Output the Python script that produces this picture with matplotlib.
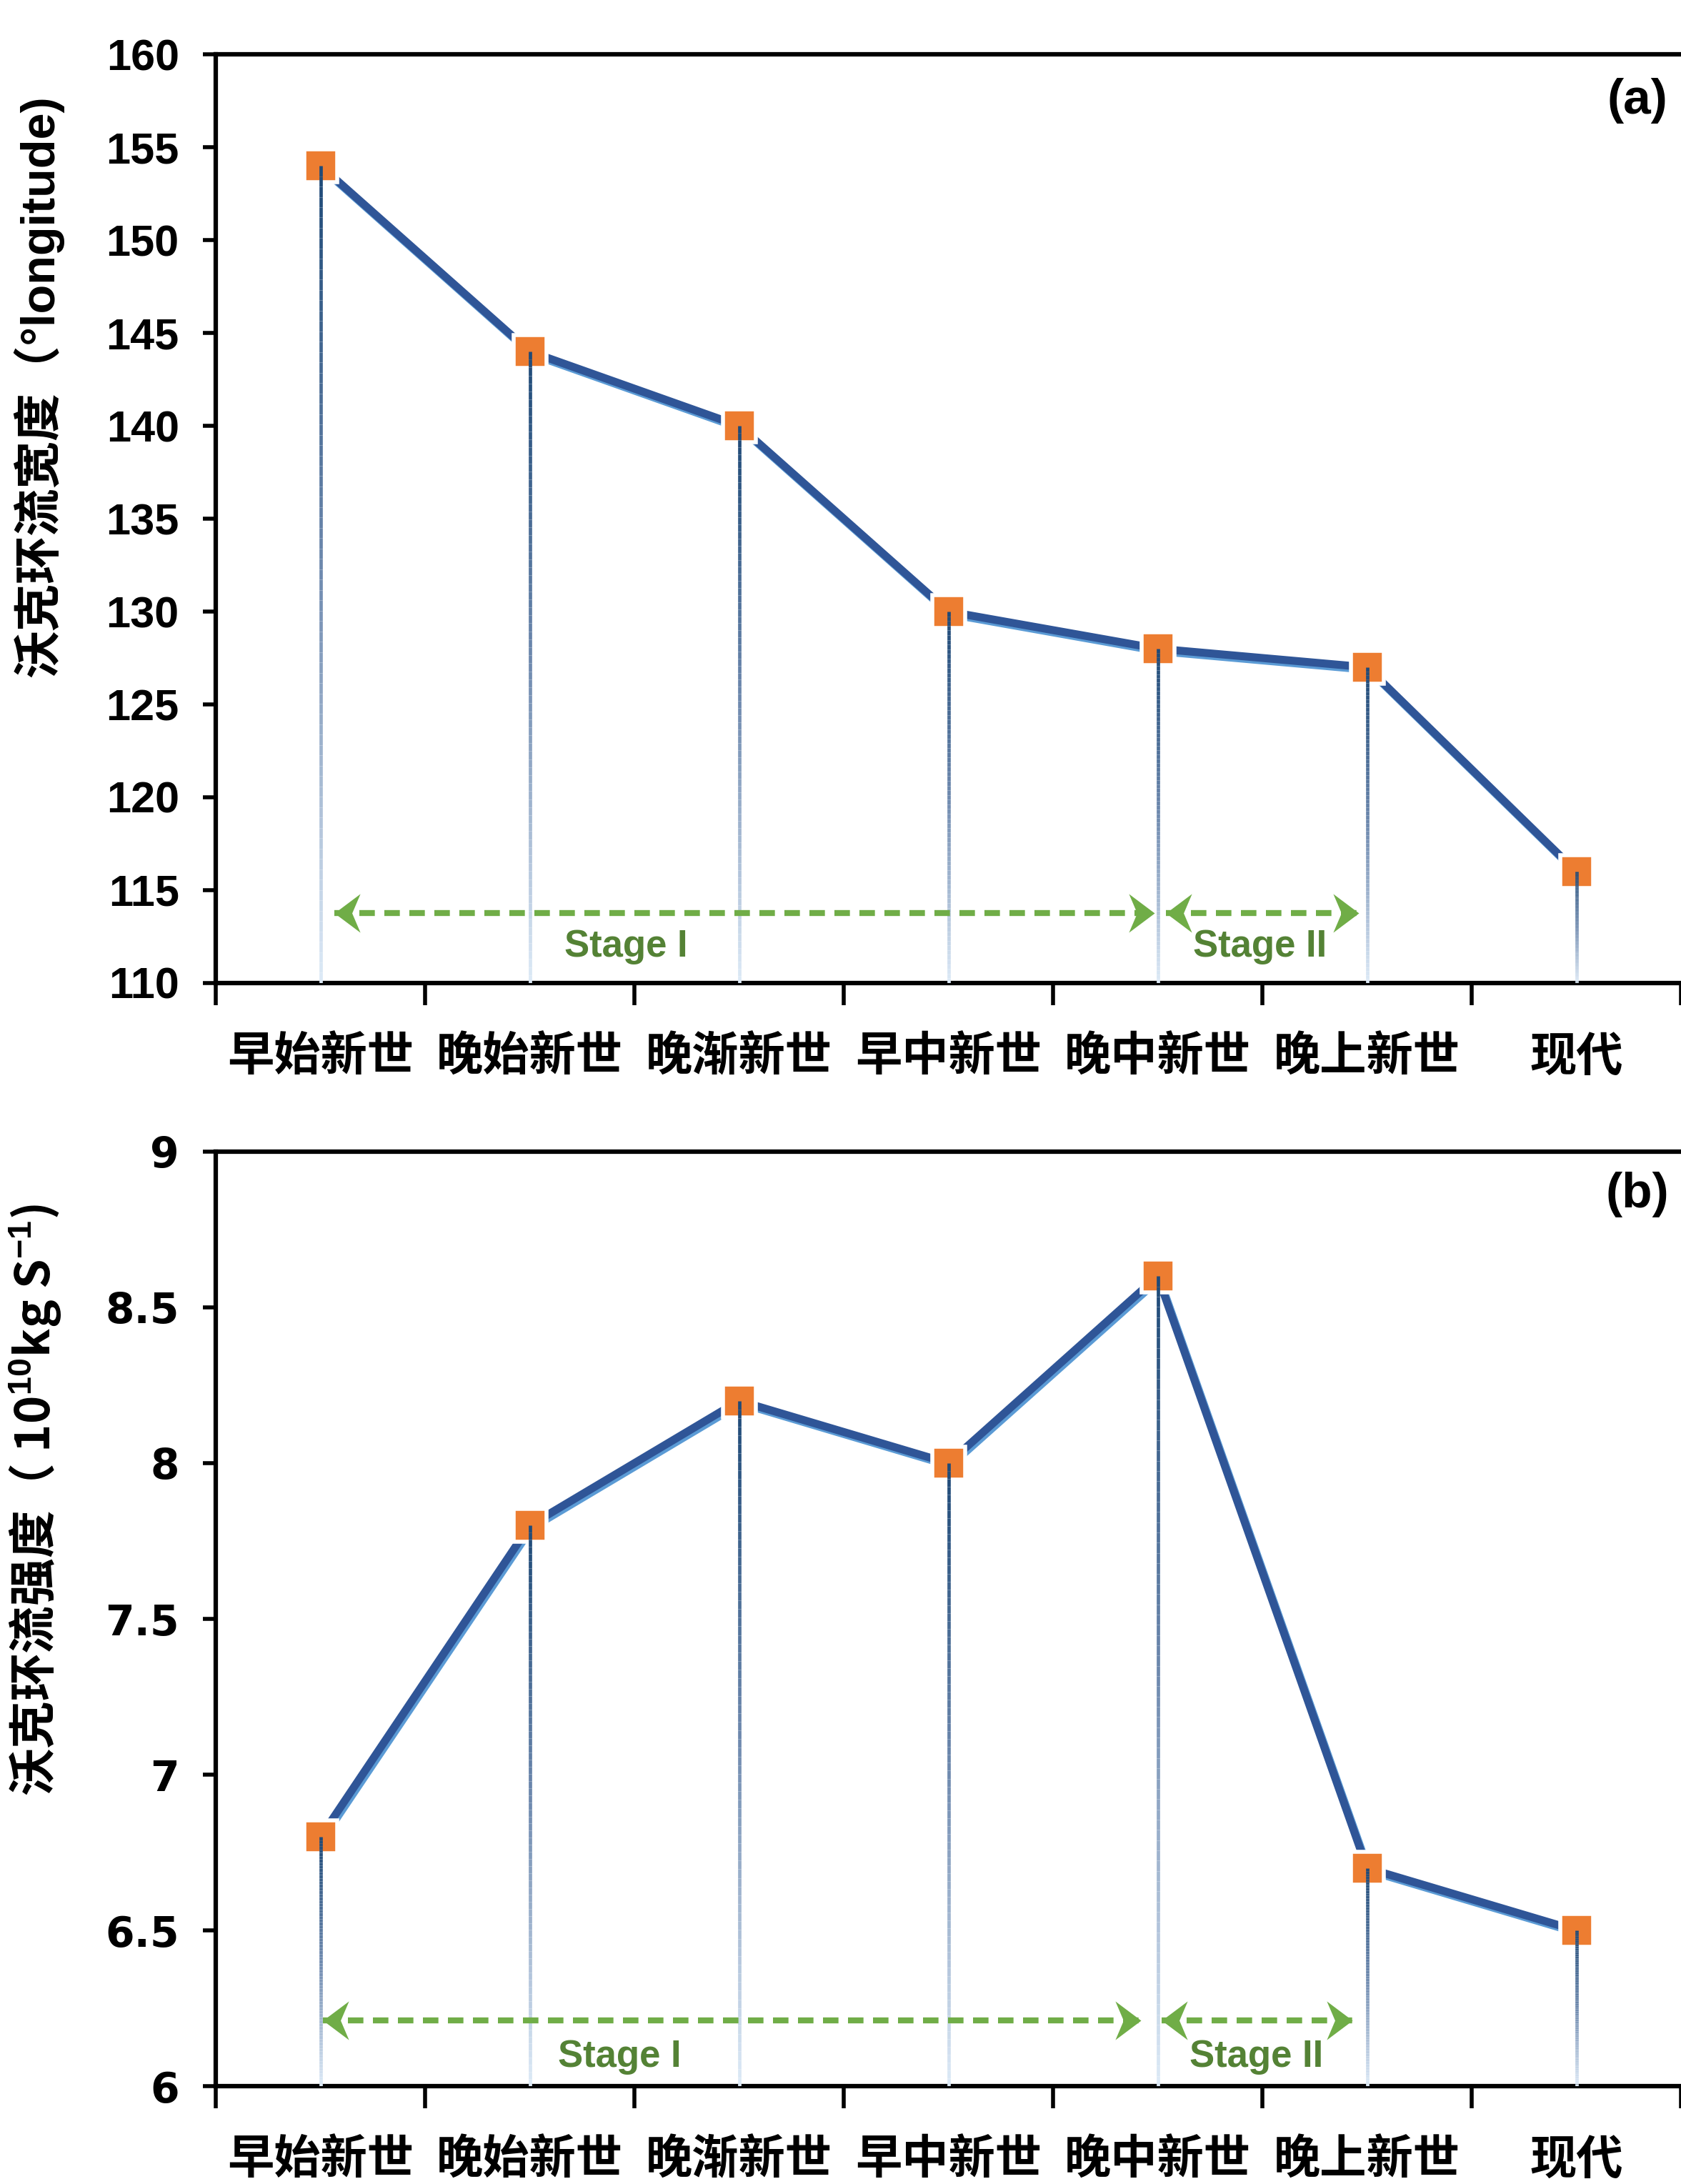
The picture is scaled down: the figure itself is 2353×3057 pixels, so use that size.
import numpy as np
import matplotlib
matplotlib.use('Agg')
import matplotlib.pyplot as plt
import matplotlib.patheffects as pe
from matplotlib.collections import LineCollection
from matplotlib.colors import LinearSegmentedColormap
from matplotlib.path import Path

# data
periods = ['早始新世', '晚始新世', '晚渐新世', '早中新世', '晚中新世', '晚上新世', '现代']
walker_width = [154, 144, 140, 130, 128, 127, 116]
walker_strength = [6.8, 7.8, 8.2, 8.0, 8.6, 6.7, 6.5]
width_ticks = [110, 115, 120, 125, 130, 135, 140, 145, 150, 155, 160]
strength_ticks = [6, 6.5, 7, 7.5, 8, 8.5, 9]
strength_ticklabels = ['6', '6.5', '7', '7.5', '8', '8.5', '9']
stage_names = ['Stage I', 'Stage II']

plt.rcParams['mathtext.fontset'] = 'custom'
plt.rcParams['mathtext.rm'] = 'Liberation Sans:bold'
plt.rcParams['mathtext.bf'] = 'Liberation Sans:bold'

CJK = 'Noto Sans CJK SC'
LINE_C = '#2F5597'
SHADOW_C = '#5B9BD5'
MARK_C = '#ED7D31'
ARROW_C = '#70AD47'
STAGE_C = '#548235'

drop_cmap = LinearSegmentedColormap.from_list('drop', ['#1F4A78', '#6F8AAF', '#DCE9F6'])

# stealth arrow heads, tip at origin
head_r = Path([(0, 0), (-1, 0.75), (-0.68, 0), (-1, -0.75), (0, 0)],
              [Path.MOVETO, Path.LINETO, Path.LINETO, Path.LINETO, Path.CLOSEPOLY])
head_l = Path([(0, 0), (1, 0.75), (0.68, 0), (1, -0.75), (0, 0)],
              [Path.MOVETO, Path.LINETO, Path.LINETO, Path.LINETO, Path.CLOSEPOLY])


def double_arrow(ax, x0, x1, y):
    ax.plot([x0, x1], [y, y], color=ARROW_C, lw=6, ls=(0, (2.6, 1.6)),
            dash_capstyle='butt', zorder=6)
    ax.plot([x0], [y], marker=head_l, ms=52, color=ARROW_C, mew=0, zorder=7)
    ax.plot([x1], [y], marker=head_r, ms=52, color=ARROW_C, mew=0, zorder=7)


def draw_panel(ax, vals, ymin, ymax):
    x = np.arange(len(periods)) + 0.5
    # gradient drop lines
    segs, cols = [], []
    for xi, v in zip(x, vals):
        ys = np.linspace(v, ymin, 80)
        for k in range(len(ys) - 1):
            segs.append([(xi, ys[k]), (xi, ys[k + 1])])
            cols.append(drop_cmap(k / (len(ys) - 2)))
    ax.add_collection(LineCollection(segs, colors=cols, linewidths=3.4,
                                     capstyle='butt', zorder=5))
    ax.plot(x, vals, color=LINE_C, lw=8, zorder=3,
            path_effects=[pe.SimpleLineShadow(offset=(1.8, -2.6), shadow_color=SHADOW_C, alpha=1.0),
                          pe.Normal()])
    ax.plot(x, vals, 's', ms=33, mfc=MARK_C, mec='white', mew=4, zorder=4)

    ax.set_xlim(0, len(periods))
    ax.set_ylim(ymin, ymax)
    ax.spines['right'].set_visible(False)
    for s in ['left', 'bottom', 'top']:
        ax.spines[s].set_linewidth(4.5)

    ax.set_xticks(range(len(periods) + 1))
    ax.set_xticklabels([])
    ax.set_xticks(x, minor=True)
    ax.set_xticklabels(periods, minor=True, fontsize=47, fontweight='heavy', family=CJK)
    ax.tick_params(axis='x', which='major', direction='out', length=22, width=4)
    ax.tick_params(axis='x', which='minor', length=0, pad=50)
    ax.tick_params(axis='y', direction='out', length=13, width=4, pad=24)


fig = plt.figure(figsize=(23.53, 30.57), dpi=100)
ax1 = fig.add_axes([0.1284, 0.5499, 0.8716, 0.4252])
ax2 = fig.add_axes([0.1284, 0.0448, 0.8716, 0.4279])

# (a) width
draw_panel(ax1, walker_width, 110, 160)
ax1.set_yticks(width_ticks)
ax1.set_yticklabels([str(t) for t in width_ticks], fontsize=44, fontweight='bold',
                    family='Liberation Sans')
ax1.set_ylabel('沃克环流宽度（°longitude)', fontsize=48, fontweight='heavy',
               family=['Liberation Sans', CJK])
ax1.yaxis.set_label_coords(-0.104, 0.643)
ax1.text(0.97, 0.95, '(a)', transform=ax1.transAxes, ha='center', va='center',
         fontsize=50, fontweight='bold', family='Liberation Sans')
double_arrow(ax1, 0.565, 4.485, 113.75)
double_arrow(ax1, 4.54, 5.46, 113.75)
ax1.text(1.96, 111.95, stage_names[0], ha='center', va='center', fontsize=38,
         fontweight='bold', color=STAGE_C, family='Liberation Sans')
ax1.text(4.99, 111.95, stage_names[1], ha='center', va='center', fontsize=38,
         fontweight='bold', color=STAGE_C, family='Liberation Sans')

# (b) strength
draw_panel(ax2, walker_strength, 6, 9)
ax2.set_yticks(strength_ticks)
ax2.set_yticklabels(strength_ticklabels, fontsize=42, fontweight='bold', family='DejaVu Sans')
ax2.set_ylabel('沃克环流强度（ 10$^{10}$kg S$^{-1}$)', fontsize=48, fontweight='heavy', family=CJK)
ax2.yaxis.set_label_coords(-0.104, 0.627)
ax2.text(0.97, 0.954, '(b)', transform=ax2.transAxes, ha='center', va='center',
         fontsize=50, fontweight='bold', family='Liberation Sans')
double_arrow(ax2, 0.51, 4.42, 6.21)
double_arrow(ax2, 4.52, 5.43, 6.21)
ax2.text(1.93, 6.094, stage_names[0], ha='center', va='center', fontsize=38,
         fontweight='bold', color=STAGE_C, family='Liberation Sans')
ax2.text(4.97, 6.094, stage_names[1], ha='center', va='center', fontsize=38,
         fontweight='bold', color=STAGE_C, family='Liberation Sans')

fig.savefig('out.png', dpi=100)
